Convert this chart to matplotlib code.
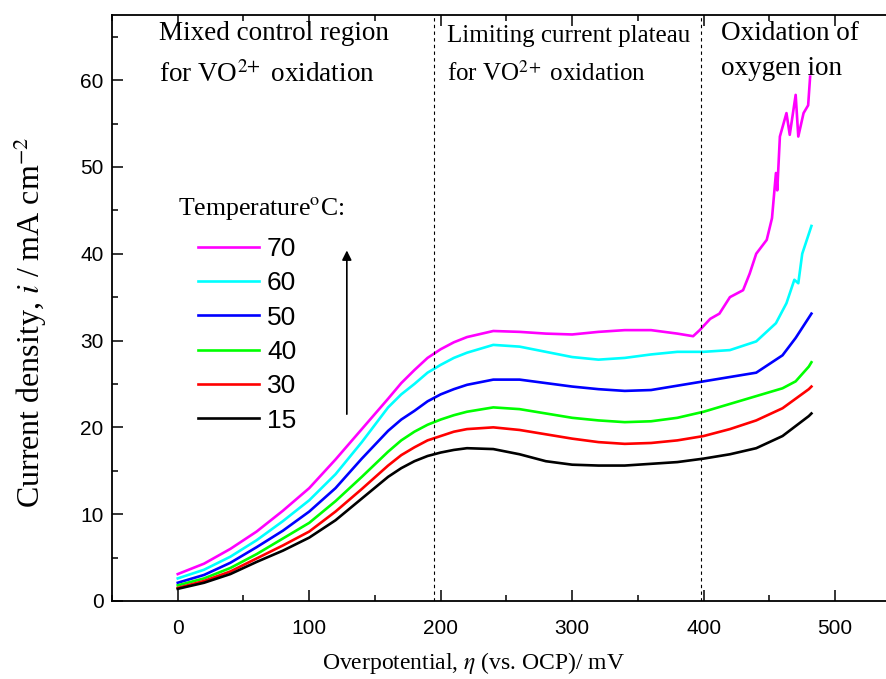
import matplotlib
matplotlib.use("Agg")
import matplotlib.pyplot as plt
from matplotlib.ticker import MultipleLocator

plt.rcParams['font.family'] = ['Liberation Sans', 'DejaVu Sans']
plt.rcParams['mathtext.fontset'] = 'stix'

# Polarisation curves (overpotential in mV, current density in mA cm-2)
eta_15 = [0, 20, 40, 60, 80, 100, 120, 140, 160, 170, 180, 190, 200, 210, 220, 240, 260, 280, 300,
          320, 340, 360, 380, 400, 420, 440, 460, 480, 482]
i_15 = [1.4, 2.1, 3.1, 4.5, 5.8, 7.3, 9.3, 11.8, 14.3, 15.3, 16.1, 16.7, 17.1, 17.4, 17.6, 17.5,
        16.9, 16.1, 15.7, 15.6, 15.6, 15.8, 16.0, 16.4, 16.9, 17.6, 19.0, 21.3, 21.6]

eta_30 = [0, 20, 40, 60, 80, 100, 120, 140, 160, 170, 180, 190, 200, 210, 220, 240, 260, 280, 300,
          320, 340, 360, 380, 400, 420, 440, 460, 480, 482]
i_30 = [1.5, 2.3, 3.4, 4.9, 6.4, 8.0, 10.3, 12.9, 15.6, 16.8, 17.7, 18.5, 19.0, 19.5, 19.8, 20.0,
        19.7, 19.2, 18.7, 18.3, 18.1, 18.2, 18.5, 19.0, 19.8, 20.8, 22.2, 24.4, 24.7]

eta_40 = [0, 20, 40, 60, 80, 100, 120, 140, 160, 170, 180, 190, 200, 210, 220, 240, 260, 280, 300,
          320, 340, 360, 380, 400, 420, 440, 460, 470, 480, 482]
i_40 = [1.8, 2.6, 3.8, 5.4, 7.2, 9.0, 11.5, 14.3, 17.2, 18.5, 19.5, 20.3, 20.9, 21.4, 21.8, 22.3,
        22.1, 21.6, 21.1, 20.8, 20.6, 20.7, 21.1, 21.8, 22.7, 23.6, 24.5, 25.3, 27.0, 27.5]

eta_50 = [0, 20, 40, 60, 80, 100, 120, 140, 160, 170, 180, 190, 200, 210, 220, 240, 260, 280, 300,
          320, 340, 360, 380, 400, 420, 440, 460, 470, 482]
i_50 = [2.1, 3.0, 4.4, 6.2, 8.1, 10.3, 13.0, 16.4, 19.6, 20.9, 21.9, 23.0, 23.8, 24.4, 24.9, 25.5,
        25.5, 25.1, 24.7, 24.4, 24.2, 24.3, 24.8, 25.3, 25.8, 26.3, 28.3, 30.3, 33.1]

eta_60 = [0, 20, 40, 60, 80, 100, 120, 140, 160, 170, 180, 190, 200, 210, 220, 240, 260, 280, 300,
          320, 340, 360, 380, 400, 420, 440, 455, 463, 469, 472, 475, 482]
i_60 = [2.6, 3.6, 5.1, 7.0, 9.2, 11.6, 14.6, 18.3, 22.3, 23.8, 25.0, 26.3, 27.2, 28.0, 28.6, 29.5,
        29.3, 28.7, 28.1, 27.8, 28.0, 28.4, 28.7, 28.7, 28.9, 29.9, 32.0, 34.3, 37.0, 36.6, 40.0, 43.2]

eta_70 = [0, 20, 40, 60, 80, 100, 120, 140, 160, 170, 180, 190, 200, 210, 220, 240, 260, 280, 300,
          320, 340, 360, 380, 392, 397, 405, 412, 420, 430, 435, 440, 448, 452, 455,
          456, 458, 463, 465.5, 470, 472, 476, 479.5, 481]
i_70 = [3.1, 4.3, 6.0, 8.0, 10.4, 13.0, 16.3, 19.8, 23.3, 25.1, 26.6, 28.0, 29.0, 29.8, 30.4, 31.1,
        31.0, 30.8, 30.7, 31.0, 31.2, 31.2, 30.8, 30.5, 31.2, 32.5, 33.1, 35.0, 35.8, 37.7, 40.0,
        41.6, 44.1, 49.3, 47.3, 53.5, 56.2, 53.7, 58.3, 53.5, 56.2, 57.1, 60.4]

temps = ['70', '60', '50', '40', '30', '15']
colors = ['#ff00ff', '#00ffff', '#0000ff', '#00ff00', '#ff0000', '#000000']
series = [(eta_70, i_70), (eta_60, i_60), (eta_50, i_50),
          (eta_40, i_40), (eta_30, i_30), (eta_15, i_15)]

# region borders (mV)
borders = [195, 398]

fig = plt.figure(figsize=(8.87, 6.79), dpi=100)
ax = fig.add_axes([0.1263, 0.1149, 0.8893, 0.8630])

for (x, y), t, c in zip(series, temps, colors):
    ax.plot(x, y, color=c, lw=1.9, label=t)

for b in borders:
    ax.axvline(b, color='black', lw=0.8, ls=(0, (3, 3)))

ax.set_xlim(-50, 550)
ax.set_ylim(0, 67.5)
ax.xaxis.set_major_locator(MultipleLocator(100))
ax.xaxis.set_minor_locator(MultipleLocator(50))
ax.yaxis.set_major_locator(MultipleLocator(10))
ax.yaxis.set_minor_locator(MultipleLocator(5))
ax.tick_params(which='both', direction='in', top=True, right=True, width=1.1, labelsize=15)
ax.tick_params(which='major', length=8)
ax.tick_params(which='minor', length=4.5)
ax.tick_params(axis='x', pad=13)
ax.tick_params(axis='y', pad=6)
for sp in ax.spines.values():
    sp.set_linewidth(1.3)

ax.set_xlabel(r'Overpotential, $\it{\eta}$ (vs. OCP)/ mV', family='Liberation Serif', fontsize=17)
ax.set_ylabel(r'Current density, $\it{i}$ / mA cm$^{-2}$', family='Liberation Serif', fontsize=23)
ax.xaxis.set_label_coords(0.458, -0.084)
ax.yaxis.set_label_coords(-0.08, 0.475)

ax.text(-14, 66.8, 'Mixed control region\nfor VO$^{2\\!+}$ oxidation', family='Liberation Serif',
        fontsize=19.5, va='top', ha='left', linespacing=1.7)
ax.text(205, 66.4, 'Limiting current plateau\nfor VO$^{2\\!+}$ oxidation', family='Liberation Serif',
        fontsize=18, va='top', ha='left', linespacing=1.73)
ax.text(413, 66.8, 'Oxidation of\noxygen ion', family='Liberation Serif',
        fontsize=19.5, va='top', ha='left', linespacing=1.5)

ax.text(0, 44.5, r'Temperature$^{\rm o}$C:', family='Liberation Serif', fontsize=18.5,
        va='baseline', ha='left')
ax.legend(loc='upper left', bbox_to_anchor=(0.109, 0.621), frameon=False, fontsize=19,
          handlelength=2.31, handletextpad=0.3, labelspacing=0.39, borderpad=0,
          borderaxespad=0)

ax.annotate('', xy=(128.6, 40.7), xytext=(128.6, 21.2),
            arrowprops=dict(arrowstyle='-|>', color='black', lw=1.2, mutation_scale=14))

fig.savefig('out.png', dpi=100)
